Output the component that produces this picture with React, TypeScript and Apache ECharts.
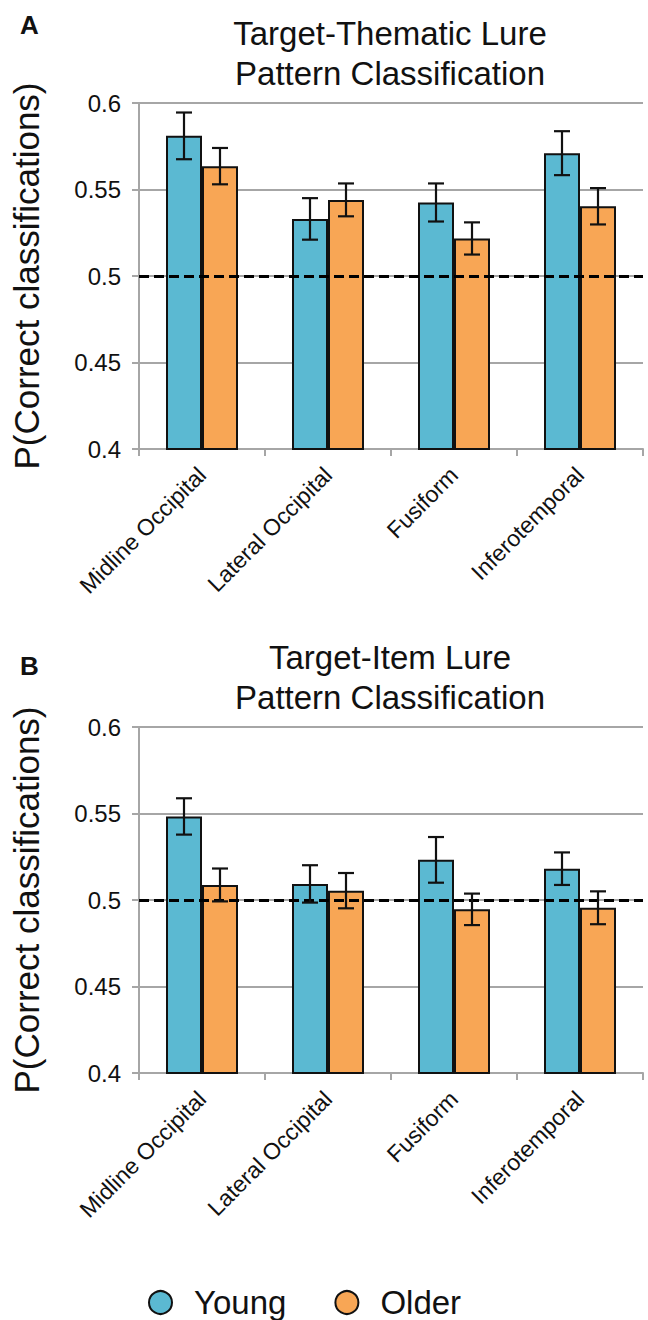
import React, { useEffect, useRef } from "react";
import * as echarts from "echarts";

const categories = ["Midline Occipital", "Lateral Occipital", "Fusiform", "Inferotemporal"];
const seriesNames = ["Young", "Older"];

// Panel A: Target-Thematic Lure
const thematicYoung = [0.581, 0.533, 0.5425, 0.571];
const thematicYoungErr = [0.0135, 0.012, 0.011, 0.0127];
const thematicOlder = [0.5635, 0.544, 0.5217, 0.5403];
const thematicOlderErr = [0.0105, 0.0095, 0.0093, 0.0105];

// Panel B: Target-Item Lure
const itemYoung = [0.5483, 0.5093, 0.5232, 0.5181];
const itemYoungErr = [0.0105, 0.0108, 0.0132, 0.0094];
const itemOlder = [0.5087, 0.5054, 0.4946, 0.4955];
const itemOlderErr = [0.0095, 0.0102, 0.0091, 0.0095];

const yTicks = { min: 0.4, max: 0.6, interval: 0.05 };
const chanceLevel = 0.5;

const titlesA = ["Target-Thematic Lure", "Pattern Classification"];
const titlesB = ["Target-Item Lure", "Pattern Classification"];
const yAxisTitle = "P(Correct classifications)";

const FONT = "'Liberation Sans', Arial, Helvetica, sans-serif";
const BLUE = "#5BB9D2";
const ORANGE = "#F8A655";
const GRID = "#A6A6A6";
const BAR_W = 36;

export default function App() {
  const ref = useRef<HTMLDivElement>(null);

  useEffect(() => {
    if (!ref.current) return;
    const chart = echarts.init(ref.current, null, { renderer: "svg" });

    const errSeries = (
      gridIndex: number,
      vals: number[],
      errs: number[],
      offset: number,
      withLine: boolean
    ): any => ({
      type: "custom",
      xAxisIndex: gridIndex,
      yAxisIndex: gridIndex,
      z: 10,
      silent: true,
      encode: { x: 0, y: 1 },
      data: vals.map((v, i) => [i, v, errs[i]]),
      renderItem: (_p: any, api: any) => {
        const x = api.value(0);
        const v = api.value(1);
        const e = api.value(2);
        const hi = api.coord([x, v + e]);
        const lo = api.coord([x, v - e]);
        const cx = hi[0] + offset;
        const st = { stroke: "#111", lineWidth: 2.2 };
        return {
          type: "group",
          children: [
            { type: "line", shape: { x1: cx, y1: hi[1], x2: cx, y2: lo[1] }, style: st },
            { type: "line", shape: { x1: cx - 8, y1: hi[1], x2: cx + 8, y2: hi[1] }, style: st },
            { type: "line", shape: { x1: cx - 8, y1: lo[1], x2: cx + 8, y2: lo[1] }, style: st },
          ],
        };
      },
      markLine: withLine
        ? {
            silent: true,
            symbol: "none",
            label: { show: false },
            lineStyle: { type: [10, 5], color: "#000", width: 2.8 },
            data: [{ yAxis: chanceLevel }],
          }
        : undefined,
    });

    const barSeries = (name: string, gridIndex: number, vals: number[], color: string): any => ({
      name,
      type: "bar",
      xAxisIndex: gridIndex,
      yAxisIndex: gridIndex,
      barWidth: BAR_W,
      barGap: "0%",
      itemStyle: { color, borderColor: "#111", borderWidth: 2 },
      data: vals,
    });

    const xAxis = (gridIndex: number): any => ({
      type: "category",
      gridIndex,
      data: categories,
      axisLine: { lineStyle: { color: GRID, width: 2 } },
      axisTick: { show: true, length: 7, lineStyle: { color: GRID, width: 2 } },
      axisLabel: {
        rotate: 45,
        fontSize: 23,
        fontFamily: FONT,
        color: "#111",
        margin: 22,
        interval: 0,
      },
    });

    const yAxis = (gridIndex: number): any => ({
      type: "value",
      gridIndex,
      min: yTicks.min,
      max: yTicks.max,
      interval: yTicks.interval,
      name: yAxisTitle,
      nameLocation: "middle",
      nameRotate: 90,
      nameGap: 95,
      nameTextStyle: { fontSize: 35, fontFamily: FONT, color: "#111" },
      axisLine: { show: true, lineStyle: { color: GRID, width: 2 } },
      axisTick: { show: true, length: 7, lineStyle: { color: GRID, width: 2 } },
      splitLine: { show: true, lineStyle: { color: GRID, width: 2 } },
      axisLabel: {
        fontSize: 24,
        fontFamily: FONT,
        color: "#111",
        margin: 18,
        formatter: (v: number) => String(+v.toFixed(2)),
      },
    });

    const titleText = (lines: string[], y0: number): any[] =>
      lines.map((t, i) => ({
        type: "text",
        x: 390,
        y: y0 + i * 40,
        style: {
          text: t,
          font: `33px ${FONT}`,
          fill: "#111",
          textAlign: "center",
          textVerticalAlign: "middle",
        },
      }));

    chart.setOption({
      animation: false,
      backgroundColor: "#fff",
      grid: [
        { left: 139, top: 103, width: 504, height: 346 },
        { left: 139, top: 727, width: 504, height: 346 },
      ],
      legend: {
        data: seriesNames,
        left: 143,
        top: 1281,
        icon: "circle",
        itemWidth: 23,
        itemHeight: 23,
        itemGap: 48,
        itemStyle: { borderColor: "#111", borderWidth: 2 },
        textStyle: { fontSize: 33, fontFamily: FONT, color: "#111", padding: [0, 0, 0, 17] },
      },
      xAxis: [xAxis(0), xAxis(1)],
      yAxis: [yAxis(0), yAxis(1)],
      graphic: [
        {
          type: "text",
          x: 20,
          y: 25,
          style: { text: "A", font: `bold 26px ${FONT}`, fill: "#111", textVerticalAlign: "middle" },
        },
        {
          type: "text",
          x: 20,
          y: 666,
          style: { text: "B", font: `bold 26px ${FONT}`, fill: "#111", textVerticalAlign: "middle" },
        },
        ...titleText(titlesA, 33),
        ...titleText(titlesB, 657),
      ],
      series: [
        barSeries(seriesNames[0], 0, thematicYoung, BLUE),
        barSeries(seriesNames[1], 0, thematicOlder, ORANGE),
        barSeries(seriesNames[0], 1, itemYoung, BLUE),
        barSeries(seriesNames[1], 1, itemOlder, ORANGE),
        errSeries(0, thematicYoung, thematicYoungErr, -BAR_W / 2, true),
        errSeries(0, thematicOlder, thematicOlderErr, BAR_W / 2, false),
        errSeries(1, itemYoung, itemYoungErr, -BAR_W / 2, true),
        errSeries(1, itemOlder, itemOlderErr, BAR_W / 2, false),
      ],
    });

    return () => chart.dispose();
  }, []);

  return (
    <div
      ref={ref}
      style={{ position: "absolute", left: 0, top: 0, width: 648, height: 1320, background: "#fff" }}
    />
  );
}
